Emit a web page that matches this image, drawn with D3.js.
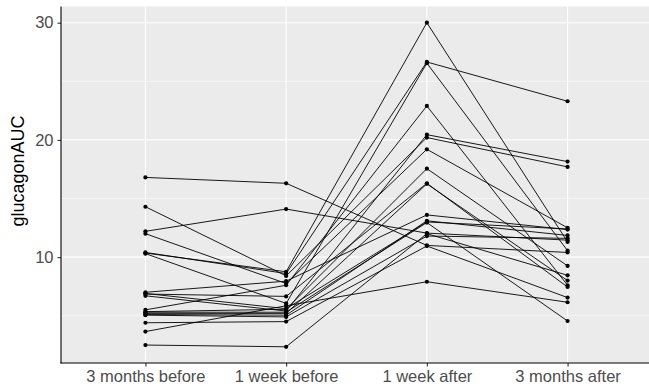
<!DOCTYPE html>
<html>
<head>
<meta charset="utf-8">
<script src="https://cdn.jsdelivr.net/npm/d3@7"></script>
<style>
  body { margin: 0; background: #fff; }
  svg { display: block; font-family: "Liberation Sans", Arial, sans-serif; }
</style>
</head>
<body>
<svg id="chart" width="649" height="386"></svg>
<script>
// time points on the x axis
const timepoints = ["3 months before", "1 week before", "1 week after", "3 months after"]

// glucagon AUC per subject, one array per time point (same subject order)
const before3m = [16.8, 14.3, 12.2, 12.0, 10.4, 10.35, 10.3, 7.0, 6.85, 6.7, 5.5, 5.35, 5.2, 5.1, 5.3, 5.05, 4.4, 3.65, 2.5, 6.9]
const before1w = [16.3, 8.4, 14.1, 7.75, 8.6, 8.75, 6.05, 7.95, 6.65, 5.4, 7.6, 5.55, 5.2, 5.05, 5.3, 4.9, 4.5, 5.85, 2.35, 5.6]
const after1w  = [11.0, 20.2, 12.05, 19.2, 26.65, 30.0, 26.55, 13.6, 16.3, 20.45, 22.9, 17.55, 16.25, 13.1, 12.95, 11.8, 10.95, 7.9, 12.0, 13.0]
const after3m  = [10.4, 17.7, 11.45, 12.5, 23.3, 11.3, 10.55, 12.35, 7.45, 18.15, 7.6, 9.25, 8.0, 11.85, 4.55, 11.6, 6.55, 6.15, 8.45, 12.4]

const yTicks = [10, 20, 30]
const yMinor = [5, 15, 25]

const subjects = before3m.map((d, i) => [before3m[i], before1w[i], after1w[i], after3m[i]]
  .map((v, j) => ({time: timepoints[j], value: v})))

const svg = d3.select("#chart")
const panel = {left: 61, right: 652, top: 6.5, bottom: 363}

const x = d3.scalePoint()
  .domain(timepoints)
  .range([panel.left, panel.right])
  .padding(0.6)

// ggplot style 5% expansion
const allVals = before3m.concat(before1w, after1w, after3m)
const lo = d3.min(allVals), hi = d3.max(allVals)
const pad = (hi - lo) * 0.05
const y = d3.scaleLinear()
  .domain([lo - pad, hi + pad])
  .range([panel.bottom, panel.top])

// panel background
svg.append("rect")
  .attr("x", panel.left)
  .attr("y", panel.top)
  .attr("width", panel.right - panel.left)
  .attr("height", panel.bottom - panel.top)
  .attr("fill", "#EBEBEB")

// grid
const grid = svg.append("g")
grid.selectAll(".minor")
  .data(yMinor)
  .join("line")
  .attr("x1", panel.left).attr("x2", panel.right)
  .attr("y1", d => y(d)).attr("y2", d => y(d))
  .attr("stroke", "#fff").attr("stroke-width", 0.55)
grid.selectAll(".major")
  .data(yTicks)
  .join("line")
  .attr("x1", panel.left).attr("x2", panel.right)
  .attr("y1", d => y(d)).attr("y2", d => y(d))
  .attr("stroke", "#fff").attr("stroke-width", 1.1)
grid.selectAll(".vmajor")
  .data(timepoints)
  .join("line")
  .attr("x1", d => x(d)).attr("x2", d => x(d))
  .attr("y1", panel.top).attr("y2", panel.bottom)
  .attr("stroke", "#fff").attr("stroke-width", 1.1)

// subject lines
const line = d3.line()
  .x(d => x(d.time))
  .y(d => y(d.value))

svg.append("g")
  .selectAll("path")
  .data(subjects)
  .join("path")
  .attr("d", line)
  .attr("fill", "none")
  .attr("stroke", "#000")
  .attr("stroke-width", 0.9)

svg.append("g")
  .selectAll("circle")
  .data(subjects.flat())
  .join("circle")
  .attr("cx", d => x(d.time))
  .attr("cy", d => y(d.value))
  .attr("r", 2.1)
  .attr("fill", "#000")

// axes
const yAxis = svg.append("g")
  .attr("transform", `translate(${panel.left},0)`)
  .call(d3.axisLeft(y).tickValues(yTicks).tickSize(3.5).tickPadding(4))
const xAxis = svg.append("g")
  .attr("transform", `translate(0,${panel.bottom})`)
  .call(d3.axisBottom(x).tickSize(3.5).tickPadding(3.5))

;[yAxis, xAxis].forEach(g => {
  g.select(".domain").remove()
  g.selectAll(".tick line").attr("stroke", "#333").attr("stroke-width", 1.1)
  g.selectAll(".tick text").attr("fill", "#4D4D4D").style("font-size", "16.5px")
})

// axis lines
svg.append("line")
  .attr("x1", panel.left).attr("x2", panel.left)
  .attr("y1", panel.top).attr("y2", panel.bottom + 0.5)
  .attr("stroke", "#000").attr("stroke-width", 1.1)
svg.append("line")
  .attr("x1", panel.left - 0.5).attr("x2", panel.right)
  .attr("y1", panel.bottom).attr("y2", panel.bottom)
  .attr("stroke", "#000").attr("stroke-width", 1.1)

// y title
svg.append("text")
  .attr("transform", `translate(24,171) rotate(-90)`)
  .attr("text-anchor", "middle")
  .style("font-size", "18px")
  .attr("fill", "#000")
  .text("glucagonAUC")
</script>
</body>
</html>
